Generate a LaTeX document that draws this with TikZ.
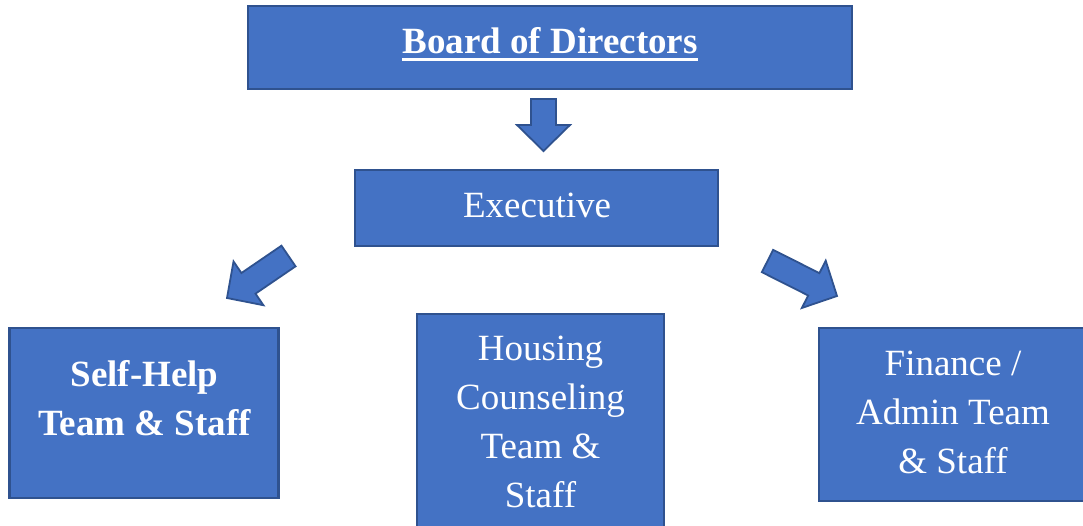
\documentclass[tikz,border=0pt]{standalone}
\usepackage{fontspec}
\setmainfont{Liberation Serif}
\usetikzlibrary{calc}
\definecolor{boxfill}{HTML}{4472C4}
\definecolor{boxline}{HTML}{2F528F}
\tikzset{
  box/.style={draw=boxline, fill=boxfill, line width=2.2pt, rectangle, inner sep=0pt},
  lbl/.style={text=white, inner sep=0pt, align=center, anchor=north, font=\fontsize{37}{49}\selectfont},
  blk/.style={draw=boxline, fill=boxfill, line width=1.8pt, line join=miter},
}
\newcommand{\blockarrow}[2]{%
  \coordinate (J) at ($(#2)!26pt!(#1)$);
  \draw[blk] ($(#1)!12.5pt!90:(#2)$) -- ($(J)!12.5pt!90:(#2)$) -- ($(J)!26.5pt!90:(#2)$)
    -- (#2) -- ($(J)!26.5pt!-90:(#2)$) -- ($(J)!12.5pt!-90:(#2)$) -- ($(#1)!12.5pt!-90:(#2)$) -- cycle;
}
\begin{document}
\begin{tikzpicture}[x=1pt,y=-1pt]
\useasboundingbox[fill=white] (0,0) rectangle (1083,525);
% boxes
\node[box, minimum width=604, minimum height=83] (board) at (550,47.5) {};
\node[box, minimum width=363, minimum height=76] (exec) at (536.5,208) {};
\node[box, minimum width=269, minimum height=170] (self) at (144,413) {};
\node[box, minimum width=247, minimum height=220] (house) at (540.5,424) {};
\node[box, minimum width=266, minimum height=173] (fin) at (952,414.5) {};
% texts
\node[text=white, inner sep=0pt, anchor=base, font=\fontsize{37}{49}\selectfont\bfseries] (bt) at (550,53) {Board of Directors};
\draw[white, line width=3pt] ([yshift=-6pt]bt.base west) -- ([yshift=-6pt]bt.base east);
\node[lbl] (et) at (537,182.7) {\strut Executive};
\node[lbl, font=\fontsize{37}{49}\selectfont\bfseries] (st) at (144.5,352.2) {\strut Self-Help\\Team \& Staff};
\node[lbl] (ht) at (540.5,325.7) {\strut Housing\\Counseling\\Team \&\\Staff};
\node[lbl] (ft) at (953,340.7) {\strut Finance /\\Admin Team\\\& Staff};
% block arrows
\coordinate (a1s) at (543.5,99);
\coordinate (a1t) at (543.5,151);
\coordinate (a2s) at (288.5,256);
\coordinate (a2t) at (227,298);
\coordinate (a3s) at (767.5,261);
\coordinate (a3t) at (837,296);
\blockarrow{a1s}{a1t}
\blockarrow{a2s}{a2t}
\blockarrow{a3s}{a3t}
\end{tikzpicture}
\end{document}
